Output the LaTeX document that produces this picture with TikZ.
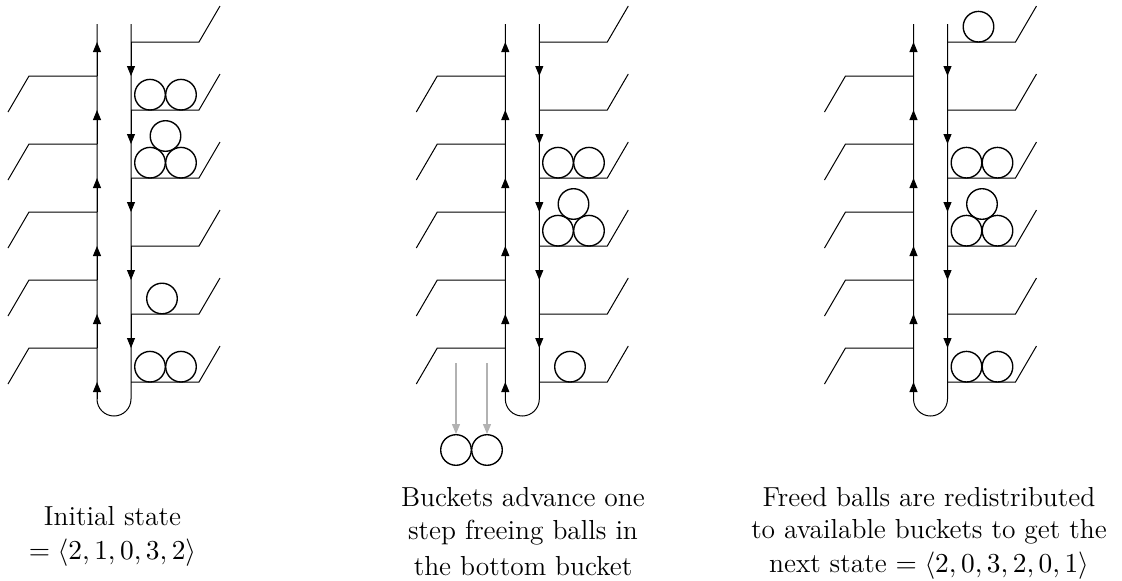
\documentclass[tikz,border=0pt]{standalone}
\usepackage{amsmath}
\usetikzlibrary{arrows.meta}

\begin{document}
\begin{tikzpicture}[
        x=0.4pt, y=-0.4pt,
        ball/.style={circle, draw, line width=0.55pt, inner sep=0pt, minimum size=12.24pt},
        arrow/.style={-{Triangle[length=4pt, width=3.2pt]}},
        drop/.style={-{Triangle[length=4pt, width=3.2pt]}, gray!60, line width=0.5pt},
        caption/.style={align=center, inner sep=0pt, font=\fontsize{11}{13}\selectfont}
    ]
    \useasboundingbox (0,0) rectangle (1122,581);

    % Chains of buckets
    \foreach \ox/\n in {0/a, 408.3/b, 816.5/c} {
        \coordinate (\n lt) at (\ox+97,24);
        \coordinate (\n lb) at (\ox+97,399);
        \coordinate (\n rt) at (\ox+131,24);
        \draw (\n lt) -- (\n lb) arc[start angle=180, end angle=0, radius=17] -- (\n rt);
        \draw[arrow] (\n lb) -- (\ox+97,382);
        \foreach \k [evaluate=\k as \ry using 42+68*\k, evaluate=\k as \ly using 76+68*\k] in {0,...,4} {
            \coordinate (\n r\k) at (\ox+131,\ry);
            \coordinate (\n l\k) at (\ox+97,\ly);
            \draw (\n r\k) -- ++(68,0) -- ++(21,-36);
            \draw (\n l\k) -- ++(-68,0) -- ++(-21,36);
            \draw[arrow] (\n r\k) -- (\n r\k |- \n l\k);
            \draw[arrow] (\n l\k) -- (\n l\k |- \n r\k);
        }
        \coordinate (\n r5) at (\ox+131,382);
        \draw (\n r5) -- ++(68,0) -- ++(21,-36);
    }

    % Balls
    \foreach \px/\py [count=\i] in {150/94.7, 181/94.7, 165.5/136, 150/162.7, 181/162.7, 162/298.5, 150/366.7, 181/366.7}
        \node[ball] (aball\i) at (\px,\py) {};
    \foreach \px/\py [count=\i] in {558/162.7, 589/162.7, 573.5/204, 558/230.7, 589/230.7, 570/366.7, 456/450, 487/450}
        \node[ball] (bball\i) at (\px,\py) {};
    \foreach \px/\py [count=\i] in {978.5/26.7, 966.5/162.7, 997.5/162.7, 982/204, 966.5/230.7, 997.5/230.7, 966.5/366.7, 997.5/366.7}
        \node[ball] (cball\i) at (\px,\py) {};

    % Balls that drop out
    \coordinate (dropa) at (456,363);
    \coordinate (dropb) at (487,363);
    \draw[drop] (dropa) -- (bball7);
    \draw[drop] (dropb) -- (bball8);

    % Captions
    \node[caption] (inittext) at (112.5,536) {Initial state\\[0.6pt]$=\langle 2,1,0,3,2\rangle$};
    \node[caption] (advancetext) at (523,531.5) {Buckets advance one\\step freeing balls in\\[1.4pt]the bottom bucket};
    \node[caption] (nexttext) at (929,533.5) {Freed balls are redistributed\\to available buckets to get the\\[0.6pt]next state $=\langle 2,0,3,2,0,1\rangle$};
\end{tikzpicture}
\end{document}
